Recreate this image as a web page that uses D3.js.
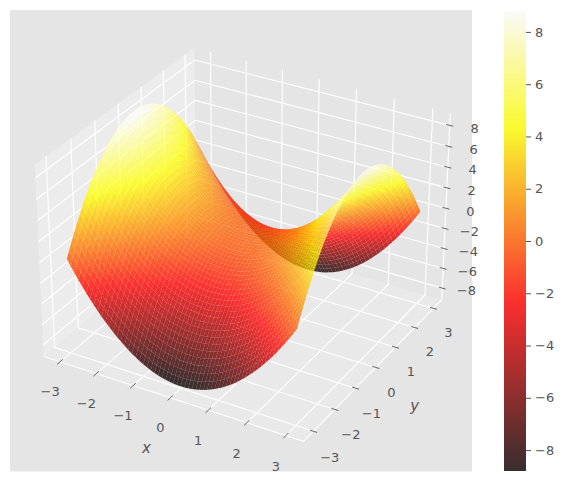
<!DOCTYPE html>
<html><head><meta charset="utf-8">
<script src="https://cdn.jsdelivr.net/npm/d3@7"></script>
<style>html,body{margin:0;padding:0;background:#fff}svg{display:block}text{font-family:"DejaVu Sans";fill:#555}</style>
</head><body><svg id="c" width="566" height="484"></svg>
<script>
const xTicks=[-3,-2,-1,0,1,2,3], yTicks=[-3,-2,-1,0,1,2,3], zTicks=[-8,-6,-4,-2,0,2,4,6,8];
const gridStep=[-3,-2.9,-2.8,-2.7,-2.6,-2.5,-2.4,-2.3,-2.2,-2.1,-2,-1.9,-1.8,-1.7,-1.6,-1.5,-1.4,-1.3,-1.2,-1.1,-1,-.9,-.8,-.7,-.6,-.5,-.4,-.3,-.2,-.1,0,.1,.2,.3,.4,.5,.6,.7,.8,.9,1,1.1,1.2,1.3,1.4,1.5,1.6,1.7,1.8,1.9,2,2.1,2.2,2.3,2.4,2.5,2.6,2.7,2.8,2.9,3];
const zQuadrant=[
[0,.59,1.16,1.71,2.24,2.75,3.24,3.71,4.16,4.59,5,5.39,5.76,6.11,6.44,6.75,7.04,7.31,7.56,7.79,8,8.19,8.36,8.51,8.64,8.75,8.84,8.91,8.96,8.99,9],
[-.59,0,.57,1.12,1.65,2.16,2.65,3.12,3.57,4,4.41,4.8,5.17,5.52,5.85,6.16,6.45,6.72,6.97,7.2,7.41,7.6,7.77,7.92,8.05,8.16,8.25,8.32,8.37,8.4,8.41],
[-1.16,-.57,0,.55,1.08,1.59,2.08,2.55,3,3.43,3.84,4.23,4.6,4.95,5.28,5.59,5.88,6.15,6.4,6.63,6.84,7.03,7.2,7.35,7.48,7.59,7.68,7.75,7.8,7.83,7.84],
[-1.71,-1.12,-.55,0,.53,1.04,1.53,2,2.45,2.88,3.29,3.68,4.05,4.4,4.73,5.04,5.33,5.6,5.85,6.08,6.29,6.48,6.65,6.8,6.93,7.04,7.13,7.2,7.25,7.28,7.29],
[-2.24,-1.65,-1.08,-.53,0,.51,1,1.47,1.92,2.35,2.76,3.15,3.52,3.87,4.2,4.51,4.8,5.07,5.32,5.55,5.76,5.95,6.12,6.27,6.4,6.51,6.6,6.67,6.72,6.75,6.76],
[-2.75,-2.16,-1.59,-1.04,-.51,0,.49,.96,1.41,1.84,2.25,2.64,3.01,3.36,3.69,4,4.29,4.56,4.81,5.04,5.25,5.44,5.61,5.76,5.89,6,6.09,6.16,6.21,6.24,6.25],
[-3.24,-2.65,-2.08,-1.53,-1,-.49,0,.47,.92,1.35,1.76,2.15,2.52,2.87,3.2,3.51,3.8,4.07,4.32,4.55,4.76,4.95,5.12,5.27,5.4,5.51,5.6,5.67,5.72,5.75,5.76],
[-3.71,-3.12,-2.55,-2,-1.47,-.96,-.47,0,.45,.88,1.29,1.68,2.05,2.4,2.73,3.04,3.33,3.6,3.85,4.08,4.29,4.48,4.65,4.8,4.93,5.04,5.13,5.2,5.25,5.28,5.29],
[-4.16,-3.57,-3,-2.45,-1.92,-1.41,-.92,-.45,0,.43,.84,1.23,1.6,1.95,2.28,2.59,2.88,3.15,3.4,3.63,3.84,4.03,4.2,4.35,4.48,4.59,4.68,4.75,4.8,4.83,4.84],
[-4.59,-4,-3.43,-2.88,-2.35,-1.84,-1.35,-.88,-.43,0,.41,.8,1.17,1.52,1.85,2.16,2.45,2.72,2.97,3.2,3.41,3.6,3.77,3.92,4.05,4.16,4.25,4.32,4.37,4.4,4.41],
[-5,-4.41,-3.84,-3.29,-2.76,-2.25,-1.76,-1.29,-.84,-.41,0,.39,.76,1.11,1.44,1.75,2.04,2.31,2.56,2.79,3,3.19,3.36,3.51,3.64,3.75,3.84,3.91,3.96,3.99,4],
[-5.39,-4.8,-4.23,-3.68,-3.15,-2.64,-2.15,-1.68,-1.23,-.8,-.39,0,.37,.72,1.05,1.36,1.65,1.92,2.17,2.4,2.61,2.8,2.97,3.12,3.25,3.36,3.45,3.52,3.57,3.6,3.61],
[-5.76,-5.17,-4.6,-4.05,-3.52,-3.01,-2.52,-2.05,-1.6,-1.17,-.76,-.37,0,.35,.68,.99,1.28,1.55,1.8,2.03,2.24,2.43,2.6,2.75,2.88,2.99,3.08,3.15,3.2,3.23,3.24],
[-6.11,-5.52,-4.95,-4.4,-3.87,-3.36,-2.87,-2.4,-1.95,-1.52,-1.11,-.72,-.35,0,.33,.64,.93,1.2,1.45,1.68,1.89,2.08,2.25,2.4,2.53,2.64,2.73,2.8,2.85,2.88,2.89],
[-6.44,-5.85,-5.28,-4.73,-4.2,-3.69,-3.2,-2.73,-2.28,-1.85,-1.44,-1.05,-.68,-.33,0,.31,.6,.87,1.12,1.35,1.56,1.75,1.92,2.07,2.2,2.31,2.4,2.47,2.52,2.55,2.56],
[-6.75,-6.16,-5.59,-5.04,-4.51,-4,-3.51,-3.04,-2.59,-2.16,-1.75,-1.36,-.99,-.64,-.31,0,.29,.56,.81,1.04,1.25,1.44,1.61,1.76,1.89,2,2.09,2.16,2.21,2.24,2.25],
[-7.04,-6.45,-5.88,-5.33,-4.8,-4.29,-3.8,-3.33,-2.88,-2.45,-2.04,-1.65,-1.28,-.93,-.6,-.29,0,.27,.52,.75,.96,1.15,1.32,1.47,1.6,1.71,1.8,1.87,1.92,1.95,1.96],
[-7.31,-6.72,-6.15,-5.6,-5.07,-4.56,-4.07,-3.6,-3.15,-2.72,-2.31,-1.92,-1.55,-1.2,-.87,-.56,-.27,0,.25,.48,.69,.88,1.05,1.2,1.33,1.44,1.53,1.6,1.65,1.68,1.69],
[-7.56,-6.97,-6.4,-5.85,-5.32,-4.81,-4.32,-3.85,-3.4,-2.97,-2.56,-2.17,-1.8,-1.45,-1.12,-.81,-.52,-.25,0,.23,.44,.63,.8,.95,1.08,1.19,1.28,1.35,1.4,1.43,1.44],
[-7.79,-7.2,-6.63,-6.08,-5.55,-5.04,-4.55,-4.08,-3.63,-3.2,-2.79,-2.4,-2.03,-1.68,-1.35,-1.04,-.75,-.48,-.23,0,.21,.4,.57,.72,.85,.96,1.05,1.12,1.17,1.2,1.21],
[-8,-7.41,-6.84,-6.29,-5.76,-5.25,-4.76,-4.29,-3.84,-3.41,-3,-2.61,-2.24,-1.89,-1.56,-1.25,-.96,-.69,-.44,-.21,0,.19,.36,.51,.64,.75,.84,.91,.96,.99,1],
[-8.19,-7.6,-7.03,-6.48,-5.95,-5.44,-4.95,-4.48,-4.03,-3.6,-3.19,-2.8,-2.43,-2.08,-1.75,-1.44,-1.15,-.88,-.63,-.4,-.19,0,.17,.32,.45,.56,.65,.72,.77,.8,.81],
[-8.36,-7.77,-7.2,-6.65,-6.12,-5.61,-5.12,-4.65,-4.2,-3.77,-3.36,-2.97,-2.6,-2.25,-1.92,-1.61,-1.32,-1.05,-.8,-.57,-.36,-.17,0,.15,.28,.39,.48,.55,.6,.63,.64],
[-8.51,-7.92,-7.35,-6.8,-6.27,-5.76,-5.27,-4.8,-4.35,-3.92,-3.51,-3.12,-2.75,-2.4,-2.07,-1.76,-1.47,-1.2,-.95,-.72,-.51,-.32,-.15,0,.13,.24,.33,.4,.45,.48,.49],
[-8.64,-8.05,-7.48,-6.93,-6.4,-5.89,-5.4,-4.93,-4.48,-4.05,-3.64,-3.25,-2.88,-2.53,-2.2,-1.89,-1.6,-1.33,-1.08,-.85,-.64,-.45,-.28,-.13,0,.11,.2,.27,.32,.35,.36],
[-8.75,-8.16,-7.59,-7.04,-6.51,-6,-5.51,-5.04,-4.59,-4.16,-3.75,-3.36,-2.99,-2.64,-2.31,-2,-1.71,-1.44,-1.19,-.96,-.75,-.56,-.39,-.24,-.11,0,.09,.16,.21,.24,.25],
[-8.84,-8.25,-7.68,-7.13,-6.6,-6.09,-5.6,-5.13,-4.68,-4.25,-3.84,-3.45,-3.08,-2.73,-2.4,-2.09,-1.8,-1.53,-1.28,-1.05,-.84,-.65,-.48,-.33,-.2,-.09,0,.07,.12,.15,.16],
[-8.91,-8.32,-7.75,-7.2,-6.67,-6.16,-5.67,-5.2,-4.75,-4.32,-3.91,-3.52,-3.15,-2.8,-2.47,-2.16,-1.87,-1.6,-1.35,-1.12,-.91,-.72,-.55,-.4,-.27,-.16,-.07,0,.05,.08,.09],
[-8.96,-8.37,-7.8,-7.25,-6.72,-6.21,-5.72,-5.25,-4.8,-4.37,-3.96,-3.57,-3.2,-2.85,-2.52,-2.21,-1.92,-1.65,-1.4,-1.17,-.96,-.77,-.6,-.45,-.32,-.21,-.12,-.05,0,.03,.04],
[-8.99,-8.4,-7.83,-7.28,-6.75,-6.24,-5.75,-5.28,-4.83,-4.4,-3.99,-3.6,-3.23,-2.88,-2.55,-2.24,-1.95,-1.68,-1.43,-1.2,-.99,-.8,-.63,-.48,-.35,-.24,-.15,-.08,-.03,0,.01],
[-9,-8.41,-7.84,-7.29,-6.76,-6.25,-5.76,-5.29,-4.84,-4.41,-4,-3.61,-3.24,-2.89,-2.56,-2.25,-1.96,-1.69,-1.44,-1.21,-1,-.81,-.64,-.49,-.36,-.25,-.16,-.09,-.04,-.01,0]];
const colorDomain=[-8.8,8.8];
const hotStops=[0,.365,.746,1], hotColors=["#0b0000","#ff0000","#ffff00","#ffffff"];
const cbTicks=[-8,-6,-4,-2,0,2,4,6,8];

const svg=d3.select("#c");
const hx=3.45,hy=3.45,hz=9.2, bxs=1.19,bzs=.875, dist=10;
const K=2500,cx=246.5,cy=235;
const sx3=d3.scaleLinear([-hx,hx],[-bxs/2,bxs/2]), sy3=d3.scaleLinear([-hy,hy],[-bxs/2,bxs/2]), sz3=d3.scaleLinear([-hz,hz],[-bzs/2,bzs/2]);
const sxP=d3.scaleLinear([-1,1],[cx-K,cx+K]), syP=d3.scaleLinear([-1,1],[cy+K,cy-K]);
const el=30*Math.PI/180,az=-60*Math.PI/180;
const w=[Math.cos(el)*Math.cos(az),Math.cos(el)*Math.sin(az),Math.sin(el)];
const u=[-Math.sin(az),Math.cos(az),0];
const v=[w[1]*u[2]-w[2]*u[1],w[2]*u[0]-w[0]*u[2],w[0]*u[1]-w[1]*u[0]];
const dot=(a,b)=>a[0]*b[0]+a[1]*b[1]+a[2]*b[2];
function proj(x,y,z){
  const q=[sx3(x),sy3(y),sz3(z)];
  const d=dist-dot(q,w);
  return {x:sxP(dot(q,u)/d),y:syP(dot(q,v)/d),d};
}
const line=d3.line().x(d=>d.x).y(d=>d.y);
const path=pts=>line(pts.map(p=>proj(...p)));

svg.append("rect").attr("x",10).attr("y",10).attr("width",462).attr("height",461.5).attr("fill","#e5e5e5");
const panes=[
 {c:"#ececec",p:[[-hx,-hy,-hz],[-hx,hy,-hz],[-hx,hy,hz],[-hx,-hy,hz]]},
 {c:"#e5e5e5",p:[[-hx,hy,-hz],[hx,hy,-hz],[hx,hy,hz],[-hx,hy,hz]]},
 {c:"#e9e9e9",p:[[-hx,-hy,-hz],[hx,-hy,-hz],[hx,hy,-hz],[-hx,hy,-hz]]}];
svg.selectAll(".pane").data(panes).join("path").attr("d",d=>path(d.p)+"Z").attr("fill",d=>d.c);
const gl=[];
xTicks.forEach(t=>gl.push([[t,-hy,-hz],[t,hy,-hz],[t,hy,hz]]));
yTicks.forEach(t=>gl.push([[hx,t,-hz],[-hx,t,-hz],[-hx,t,hz]]));
zTicks.forEach(t=>gl.push([[-hx,-hy,t],[-hx,hy,t],[hx,hy,t]]));
gl.push([[-hx,-hy,-hz],[hx,-hy,-hz],[hx,hy,-hz],[hx,hy,hz]]);
svg.selectAll(".g").data(gl).join("path").attr("d",path).attr("fill","none").attr("stroke","#fff").attr("stroke-width",1.1);
const tm=[];
xTicks.forEach(t=>tm.push([[t,-hy-.12,-hz],[t,-hy+.12,-hz]]));
yTicks.forEach(t=>tm.push([[hx-.09,t,-hz],[hx+.09,t,-hz]]));
zTicks.forEach(t=>tm.push([[hx-.09,hy,t],[hx+.09,hy,t]]));
svg.selectAll(".t").data(tm).join("path").attr("d",path).attr("fill","none").attr("stroke","#555").attr("stroke-width",.9);
const n=gridStep.length;
const zAt=(i,j)=>zQuadrant[Math.min(i,n-1-i)][Math.min(j,n-1-j)];
const hotT=d3.scaleLinear(colorDomain,[0,1]).clamp(true);
const hot=d3.scaleLinear(hotStops,hotColors);
const cells=[];
for(let i=0;i<n-1;i++)for(let j=0;j<n-1;j++){
  const c=[[i,j],[i+1,j],[i+1,j+1],[i,j+1]].map(([a,b])=>[gridStep[a],gridStep[b],zAt(a,b)]);
  const pr=c.map(p=>proj(...p));
  cells.push({pr,depth:d3.mean(pr,p=>p.d),val:d3.mean(c,p=>p[2])});
}
cells.sort((a,b)=>d3.descending(a.depth,b.depth));
svg.append("g").selectAll("path").data(cells).join("path")
 .attr("d",d=>line(d.pr)+"Z").attr("fill",d=>hot(hotT(d.val))).attr("fill-opacity",.8);
const label=(pos,txt,size,style)=>{const p=proj(...pos);
  svg.append("text").attr("x",p.x).attr("y",p.y).attr("text-anchor","middle").attr("dominant-baseline","central")
   .attr("font-size",size).attr("font-style",style||"normal").text(txt);};
const fmt=d3.format("d");
xTicks.forEach(t=>label([t,-hy-.45,-hz-2],fmt(t),13));
yTicks.forEach(t=>label([hx+.42,t,-hz-2],fmt(t),13));
zTicks.forEach(t=>label([hx+.56,hy+.17,t],fmt(t),13));
label([0,-hy-1.05,-hz-2.7],"x",15,"italic");
label([hx+1.03,0,-hz-2.6],"y",15,"italic");
const defs=svg.append("defs");
const grad=defs.append("linearGradient").attr("id","cb").attr("x1",0).attr("x2",0).attr("y1",1).attr("y2",0);
grad.selectAll("stop").data(hotStops).join("stop").attr("offset",d=>d).attr("stop-color",d=>hot(d));
svg.append("rect").attr("x",504).attr("y",11).attr("width",22).attr("height",460).attr("fill","#e5e5e5");
svg.append("rect").attr("x",504).attr("y",11).attr("width",22).attr("height",460).attr("fill","url(#cb)").attr("fill-opacity",.8);
const cbY=d3.scaleLinear(colorDomain,[471,11]);
const ax=svg.append("g").attr("transform","translate(526,0)").call(d3.axisRight(cbY).tickValues(cbTicks).tickSize(5).tickPadding(4).tickFormat(fmt));
ax.select(".domain").remove();
ax.selectAll("line").attr("stroke","#555");
ax.selectAll("text").attr("font-size",13).attr("font-family","DejaVu Sans").attr("fill","#555");
</script></body></html>
